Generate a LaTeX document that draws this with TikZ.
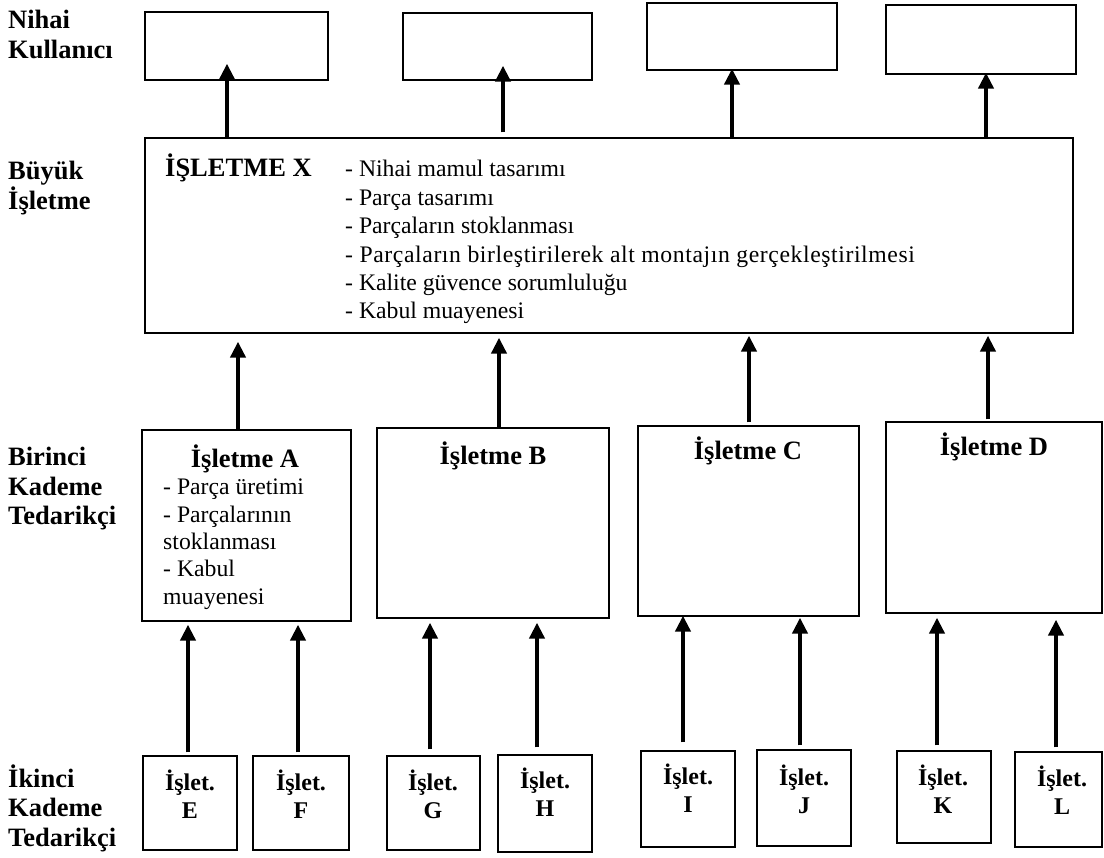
\documentclass[tikz,border=0pt]{standalone}
\usepackage{fontspec}
\setmainfont{Liberation Serif}
\usetikzlibrary{arrows.meta}

\begin{document}
\begin{tikzpicture}[x=1pt,y=-1pt,
    box/.style={draw,line width=1.3pt,inner sep=0pt},
    up/.style={line width=4pt,-{Triangle[length=16pt,width=15pt]}},
    lvl/.style={anchor=base west,align=left,inner sep=0pt,font=\bfseries\fontsize{26.5}{29.5}\selectfont},
    hd/.style={inner sep=0pt,font=\bfseries\fontsize{26.5}{29.5}\selectfont},
    lst/.style={anchor=base west,align=left,inner sep=0pt},
    sm/.style={anchor=base,align=center,inner sep=0pt,font=\bfseries\fontsize{24}{28}\selectfont}]
  \useasboundingbox (0,0) rectangle (1104,858);

  % seviye etiketleri (base = son satir)
  \node[lvl] (lNihai) at (8,58.5) {Nihai\\Kullanıcı};
  \node[lvl] (lBuyuk) at (8,209.5) {Büyük\\İşletme};
  \node[lvl] (lBir) at (8,525) {Birinci\\Kademe\\Tedarikçi};
  \node[lvl] (lIki) at (8,846) {İkinci\\Kademe\\Tedarikçi};

  % nihai kullanicilar
  \node[box,minimum width=183pt,minimum height=68pt] (nu1) at (236.5,46) {};
  \node[box,minimum width=189pt,minimum height=67pt] (nu2) at (497.5,46.5) {};
  \node[box,minimum width=190pt,minimum height=67pt] (nu3) at (742,36.5) {};
  \node[box,minimum width=190pt,minimum height=69pt] (nu4) at (981,39.5) {};

  % buyuk isletme
  \node[box,minimum width=928pt,minimum height=195pt] (X) at (609,235.5) {};
  \node[hd,anchor=base west] (Xname) at (165,177) {İŞLETME X};
  \node[lst,font=\fontsize{23.7}{28.4}\selectfont] (Xlist) at (345,319)
    {- Nihai mamul tasarımı\\- Parça tasarımı\\- Parçaların stoklanması\\
     {\addfontfeatures{LetterSpace=2.5}- Parçaların birleştirilerek alt montajın gerçekleştirilmesi}\\
     - Kalite güvence sorumluluğu\\- Kabul muayenesi};

  % birinci kademe
  \node[box,minimum width=209pt,minimum height=191pt] (A) at (246.5,525.5) {};
  \node[box,minimum width=232pt,minimum height=190pt] (B) at (493,523) {};
  \node[box,minimum width=221pt,minimum height=190pt] (C) at (748.5,521) {};
  \node[box,minimum width=216pt,minimum height=191pt] (D) at (994,517.5) {};
  \node[hd,anchor=base] (Aname) at (245,468) {İşletme A};
  \node[lst,font=\fontsize{23.7}{27.3}\selectfont] (Alist) at (163,604)
    {- Parça üretimi\\- Parçalarının\\stoklanması\\- Kabul\\muayenesi};
  \node[hd,anchor=base] (Bname) at (493,465) {İşletme B};
  \node[hd,anchor=base] (Cname) at (748,460) {İşletme C};
  \node[hd,anchor=base] (Dname) at (994,456) {İşletme D};

  % ikinci kademe
  \node[box,minimum width=94pt,minimum height=94pt] (E) at (190,803) {};
  \node[box,minimum width=96pt,minimum height=94pt] (F) at (301,803) {};
  \node[box,minimum width=93pt,minimum height=94pt] (G) at (433.5,803) {};
  \node[box,minimum width=94pt,minimum height=97pt] (H) at (545,803.5) {};
  \node[box,minimum width=94pt,minimum height=96pt] (I) at (688,799) {};
  \node[box,minimum width=94pt,minimum height=96pt] (J) at (804,798) {};
  \node[box,minimum width=94pt,minimum height=92pt] (K) at (944,797) {};
  \node[box,minimum width=87pt,minimum height=95pt] (L) at (1058.5,799.5) {};
  \node[sm] (Et) at (190,818) {İşlet.\\E};
  \node[sm] (Ft) at (301,818) {İşlet.\\F};
  \node[sm] (Gt) at (433,818) {İşlet.\\G};
  \node[sm] (Ht) at (545,816) {İşlet.\\H};
  \node[sm] (It) at (688,812) {İşlet.\\I};
  \node[sm] (Jt) at (804,813) {İşlet.\\J};
  \node[sm] (Kt) at (943,813) {İşlet.\\K};
  \node[sm] (Lt) at (1062,814) {İşlet.\\L};

  % ok sutunlari
  \coordinate (p1) at (227,0);
  \coordinate (p2) at (503,0);
  \coordinate (p3) at (732,0);
  \coordinate (p4) at (986,0);
  \coordinate (q1) at (238,0);
  \coordinate (q2) at (499,0);
  \coordinate (q3) at (749,0);
  \coordinate (q4) at (988,0);
  \coordinate (rE) at (188,0);
  \coordinate (rF) at (298,0);
  \coordinate (rG) at (430,0);
  \coordinate (rH) at (537,0);
  \coordinate (rI) at (683,0);
  \coordinate (rJ) at (800,0);
  \coordinate (rK) at (937,0);
  \coordinate (rL) at (1056,0);

  % X -> nihai kullanici
  \draw[up,shorten >=-17pt] (X.north -| p1) -- (nu1.south -| p1);
  \draw[up,shorten <=5pt,shorten >=-15pt] (X.north -| p2) -- (nu2.south -| p2);
  \draw[up,shorten >=-2pt] (X.north -| p3) -- (nu3.south -| p3);
  \draw[up,shorten >=-2pt] (X.north -| p4) -- (nu4.south -| p4);

  % birinci kademe -> X
  \draw[up,shorten >=8pt] (A.north -| q1) -- (X.south -| q1);
  \draw[up,shorten >=4pt] (B.north -| q2) -- (X.south -| q2);
  \draw[up,shorten <=3pt,shorten >=2pt] (C.north -| q3) -- (X.south -| q3);
  \draw[up,shorten <=2pt,shorten >=2pt] (D.north -| q4) -- (X.south -| q4);

  % ikinci kademe -> birinci kademe
  \draw[up,shorten <=3pt,shorten >=3pt] (E.north -| rE) -- (A.south -| rE);
  \draw[up,shorten <=3pt,shorten >=3pt] (F.north -| rF) -- (A.south -| rF);
  \draw[up,shorten <=6pt,shorten >=4pt] (G.north -| rG) -- (B.south -| rG);
  \draw[up,shorten <=7pt,shorten >=4pt] (H.north -| rH) -- (B.south -| rH);
  \draw[up,shorten <=8pt,shorten >=-1pt] (I.north -| rI) -- (C.south -| rI);
  \draw[up,shorten <=4pt,shorten >=1pt] (J.north -| rJ) -- (C.south -| rJ);
  \draw[up,shorten <=5pt,shorten >=4pt] (K.north -| rK) -- (D.south -| rK);
  \draw[up,shorten <=4pt,shorten >=6pt] (L.north -| rL) -- (D.south -| rL);
\end{tikzpicture}
\end{document}
